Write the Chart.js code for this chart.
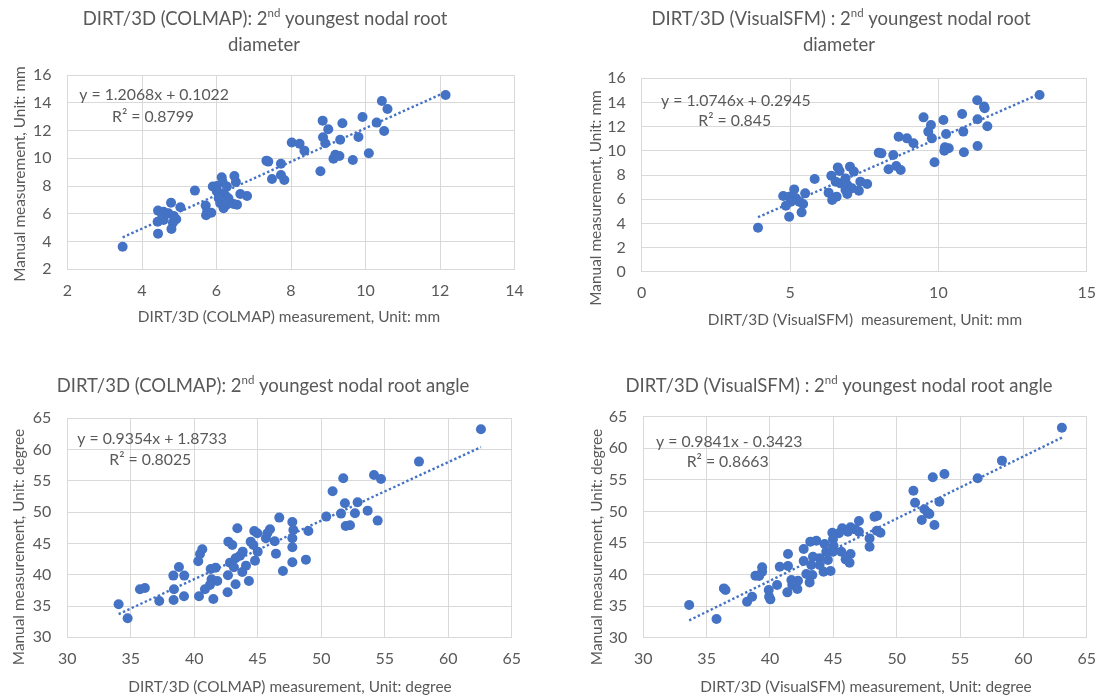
<!DOCTYPE html>
<html>
<head>
<meta charset="utf-8">
<script src="https://cdn.jsdelivr.net/npm/chart.js@4.4.0/dist/chart.umd.min.js"></script>
<style>
  html, body { margin: 0; padding: 0; background: #fff; }
  body { width: 1097px; height: 697px; position: relative; overflow: hidden; }
  canvas { position: absolute; }
</style>
</head>
<body>
<canvas id="c1" width="548" height="345" style="left:0;top:0"></canvas>
<canvas id="c2" width="560" height="345" style="left:548px;top:0"></canvas>
<canvas id="c3" width="548" height="352" style="left:0;top:345px"></canvas>
<canvas id="c4" width="560" height="352" style="left:548px;top:345px"></canvas>
<script>
// DIRT/3D (COLMAP) vs manual, diameter (mm)
const colmapDiaX = [3.48, 12.15, 10.44, 10.59, 8.85, 9.38, 9.92, 10.30, 9.00, 10.50, 8.86, 9.32, 9.81, 8.92, 8.02, 8.23, 8.36, 10.09, 9.19, 9.30, 9.14, 9.66, 8.79, 7.34, 7.39, 7.73, 7.73, 7.82, 7.49, 6.14, 6.48, 6.52, 6.16, 5.90, 6.01, 5.42, 6.28, 6.01, 6.10, 6.23, 6.64, 6.82, 6.06, 6.32, 6.10, 6.26, 6.46, 6.55, 6.19, 4.78, 5.03, 4.43, 4.58, 4.71, 4.54, 4.85, 4.92, 4.42, 4.58, 4.83, 4.79, 4.43, 5.71, 5.75, 5.72, 5.86];
const colmapDiaY = [3.63, 14.56, 14.13, 13.55, 12.71, 12.52, 12.97, 12.57, 12.09, 11.97, 11.51, 11.34, 11.53, 11.08, 11.13, 11.05, 10.55, 10.36, 10.26, 10.17, 9.97, 9.88, 9.06, 9.83, 9.76, 9.61, 8.80, 8.44, 8.51, 8.63, 8.72, 8.29, 8.32, 7.96, 8.00, 7.67, 7.96, 7.60, 7.48, 7.36, 7.43, 7.28, 7.12, 7.12, 6.76, 6.64, 6.71, 6.66, 6.40, 6.80, 6.47, 6.23, 6.15, 6.03, 5.91, 5.84, 5.60, 5.43, 5.55, 5.36, 4.91, 4.57, 6.59, 6.15, 5.89, 6.08];

// DIRT/3D (VisualSFM) vs manual, diameter (mm)
const sfmDiaX = [3.92, 13.41, 11.31, 11.54, 11.56, 9.50, 10.80, 10.17, 11.32, 9.75, 11.65, 9.66, 10.26, 10.84, 8.66, 8.94, 9.78, 9.16, 10.22, 10.35, 10.20, 10.86, 11.32, 9.87, 7.99, 8.08, 8.48, 8.32, 8.58, 8.73, 5.83, 6.39, 6.61, 6.67, 7.02, 7.15, 6.87, 6.54, 6.70, 6.93, 7.37, 7.60, 6.87, 7.09, 7.32, 6.93, 6.30, 6.57, 6.42, 5.14, 5.51, 4.77, 4.97, 5.20, 5.31, 5.03, 4.86, 5.44, 5.39, 4.97];
const sfmDiaY = [3.64, 14.62, 14.18, 13.66, 13.52, 12.77, 13.05, 12.55, 12.61, 12.14, 12.03, 11.59, 11.39, 11.59, 11.17, 11.03, 11.03, 10.62, 10.29, 10.21, 10.01, 9.88, 10.40, 9.05, 9.85, 9.79, 9.66, 8.47, 8.74, 8.41, 7.67, 7.94, 8.63, 8.33, 8.69, 8.28, 7.72, 7.45, 7.31, 7.17, 7.45, 7.26, 6.76, 6.90, 6.70, 6.43, 6.54, 6.21, 5.93, 6.81, 6.48, 6.26, 6.21, 6.07, 5.79, 5.79, 5.46, 5.60, 4.91, 4.55];

// DIRT/3D (COLMAP) vs manual, angle (degree)
const colmapAngX = [62.57, 57.69, 54.15, 54.70, 51.73, 50.89, 51.86, 52.86, 53.65, 52.65, 51.55, 50.39, 54.44, 51.92, 52.26, 46.69, 47.72, 48.98, 47.80, 47.72, 47.72, 48.79, 47.72, 46.98, 46.43, 46.33, 45.96, 45.75, 45.64, 44.72, 44.96, 43.39, 44.44, 44.65, 44.99, 42.68, 42.99, 43.81, 43.60, 43.25, 44.78, 44.07, 42.81, 43.12, 43.78, 42.65, 43.25, 44.30, 42.62, 40.63, 40.45, 40.31, 41.29, 41.68, 41.36, 41.81, 41.23, 40.84, 40.37, 41.50, 38.79, 38.35, 39.21, 38.40, 39.19, 38.37, 37.24, 35.72, 36.11, 34.04, 34.75];
const colmapAngY = [63.24, 58.08, 55.95, 55.31, 55.41, 53.33, 51.42, 51.58, 50.24, 49.82, 49.77, 49.29, 48.65, 47.79, 47.90, 49.13, 48.43, 47.00, 47.16, 45.82, 44.38, 42.41, 41.99, 40.60, 43.37, 45.34, 47.26, 46.62, 45.82, 47.00, 46.62, 47.42, 45.29, 44.76, 43.69, 45.29, 44.76, 43.69, 43.05, 42.63, 42.25, 41.45, 41.93, 41.19, 40.44, 39.91, 38.47, 39.00, 37.19, 44.07, 43.32, 42.15, 40.92, 41.13, 39.27, 39.00, 38.36, 37.67, 36.55, 36.13, 41.24, 39.86, 39.86, 37.67, 36.55, 35.97, 35.81, 37.67, 37.88, 35.27, 33.04];

// DIRT/3D (VisualSFM) vs manual, angle (degree)
const sfmAngX = [63.04, 58.31, 56.39, 52.85, 53.77, 51.32, 51.45, 53.37, 52.19, 52.45, 52.58, 51.98, 52.98, 48.25, 48.46, 47.02, 48.43, 48.72, 46.36, 46.73, 47.02, 45.70, 46.15, 45.44, 44.92, 44.97, 47.86, 47.86, 44.31, 45.02, 43.66, 43.18, 42.66, 41.42, 44.44, 44.97, 45.63, 46.36, 45.97, 46.28, 44.57, 43.92, 43.39, 42.66, 43.26, 43.92, 44.23, 44.78, 42.87, 43.34, 40.77, 41.42, 39.38, 39.38, 38.85, 39.14, 41.69, 42.21, 43.13, 41.76, 42.16, 41.37, 40.56, 39.90, 39.93, 40.03, 38.19, 38.59, 36.36, 36.49, 33.62, 35.78];
const sfmAngY = [63.26, 58.04, 55.24, 55.40, 55.92, 53.28, 51.38, 51.54, 50.33, 49.80, 49.59, 48.64, 47.85, 49.17, 49.32, 48.48, 46.95, 46.63, 47.48, 47.16, 46.79, 47.32, 46.79, 46.53, 46.63, 45.58, 45.73, 44.41, 44.84, 44.52, 45.36, 45.21, 44.04, 43.25, 43.62, 43.62, 43.62, 43.25, 42.41, 41.88, 42.30, 42.57, 42.83, 42.14, 41.51, 41.51, 40.45, 40.56, 40.08, 39.93, 41.25, 41.35, 41.14, 40.45, 39.82, 39.77, 39.13, 39.03, 38.76, 38.34, 37.71, 37.18, 38.34, 37.55, 36.49, 36.07, 35.70, 36.49, 37.81, 37.55, 35.17, 32.96];

// trendline equations as printed on the charts
const slopes = [1.2068, 1.0746, 0.9354, 0.9841];
const intercepts = [0.1022, 0.2945, 1.8733, -0.3423];
const eqLabels = ['y = 1.2068x + 0.1022', 'y = 1.0746x + 0.2945', 'y = 0.9354x + 1.8733', 'y = 0.9841x - 0.3423'];
const r2Labels = ['R\u00b2 = 0.8799', 'R\u00b2 = 0.845', 'R\u00b2 = 0.8025', 'R\u00b2 = 0.8663'];

// axis ranges [min, max, step]
const xRanges = [[2, 14, 2], [0, 15, 5], [30, 65, 5], [30, 65, 5]];
const yRanges = [[2, 16, 2], [0, 16, 2], [30, 65, 5], [30, 65, 5]];

const GREY = '#595959';
const GRID = '#d9d9d9';
const BLUE = '#4472C4';
const FONT = 'Lato, "Open Sans", sans-serif';

Chart.defaults.font.family = FONT;
Chart.defaults.color = GREY;

// draws titles, axis titles and the trendline equation
const notesPlugin = {
  id: 'notes',
  afterDraw(chart, args, opts) {
    const ctx = chart.ctx;
    ctx.save();
    ctx.fillStyle = GREY;
    ctx.textBaseline = 'middle';
    for (const n of opts.items) {
      const parts = typeof n.text === 'string' ? [{ t: n.text }] : n.text;
      const fontOf = p => (p.sup ? n.size * 0.62 : n.size) + 'px ' + FONT;
      let w = 0;
      parts.forEach(p => { ctx.font = fontOf(p); w += ctx.measureText(p.t).width; });
      ctx.save();
      ctx.translate(n.x - opts.offX, n.y - opts.offY);
      if (n.rotate) ctx.rotate(-Math.PI / 2);
      let x = n.align === 'left' ? 0 : -w / 2;
      ctx.textAlign = 'left';
      parts.forEach(p => {
        ctx.font = fontOf(p);
        ctx.fillText(p.t, x, p.sup ? -n.size * 0.32 : 0);
        x += ctx.measureText(p.t).width;
      });
      ctx.restore();
    }
    ctx.restore();
  }
};

function makeChart(id, idx, xs, ys, box, items) {
  const points = xs.map((x, i) => ({ x: x, y: ys[i] }));
  const x0 = Math.min(...xs), x1 = Math.max(...xs);
  const trend = [x0, x1].map(x => ({ x: x, y: slopes[idx] * x + intercepts[idx] }));
  const [xmin, xmax, xstep] = xRanges[idx];
  const [ymin, ymax, ystep] = yRanges[idx];
  const canvas = document.getElementById(id);

  new Chart(canvas, {
    type: 'scatter',
    data: {
      datasets: [{
        data: points,
        backgroundColor: BLUE,
        borderColor: BLUE,
        pointRadius: 5,
        pointBorderWidth: 0,
        order: 1
      }, {
        type: 'line',
        data: trend,
        borderColor: BLUE,
        borderWidth: 2.4,
        borderDash: [2.4, 2.4],
        pointRadius: 0,
        fill: false,
        order: 0
      }]
    },
    options: {
      responsive: false,
      animation: false,
      layout: { padding: { left: 0, top: box.top, right: box.right, bottom: 0 } },
      plugins: {
        legend: { display: false },
        tooltip: { enabled: false },
        notes: { offX: box.offX, offY: box.offY, items: items }
      },
      scales: {
        x: {
          type: 'linear',
          min: xmin, max: xmax,
          ticks: { stepSize: xstep, padding: 12, font: { size: 16 }, color: GREY },
          grid: { color: GRID, drawTicks: false },
          border: { color: GRID },
          afterFit: s => { s.height = box.xh; }
        },
        y: {
          min: ymin, max: ymax,
          ticks: { stepSize: ystep, padding: 16, font: { size: 16 }, color: GREY },
          grid: { color: GRID, drawTicks: false },
          border: { color: GRID },
          afterFit: s => { s.width = box.yw; }
        }
      }
    },
    plugins: [notesPlugin]
  });
}

const TS = 18.5, AS = 15.4, ES = 15.8;

makeChart('c1', 0, colmapDiaX, colmapDiaY,
  { offX: 0, offY: 0, top: 75, right: 33.5, yw: 67.5, xh: 75.7 },
  [
    { text: [{ t: 'DIRT/3D (COLMAP): 2' }, { t: 'nd', sup: true }, { t: ' youngest nodal root' }], x: 265, y: 19, size: TS },
    { text: 'diameter', x: 264, y: 45, size: TS },
    { text: 'Manual measurement, Unit: mm', x: 20, y: 174, size: AS, rotate: true },
    { text: 'DIRT/3D (COLMAP) measurement, Unit: mm', x: 289, y: 317, size: AS },
    { text: eqLabels[0], x: 79.3, y: 95, size: ES, align: 'left' },
    { text: r2Labels[0], x: 112, y: 116.7, size: ES, align: 'left' }
  ]);

makeChart('c2', 1, sfmDiaX, sfmDiaY,
  { offX: 548, offY: 0, top: 78.3, right: 20, yw: 93.7, xh: 73.3 },
  [
    { text: [{ t: 'DIRT/3D (VisualSFM) : 2' }, { t: 'nd', sup: true }, { t: ' youngest nodal root' }], x: 841, y: 19, size: TS },
    { text: 'diameter', x: 839, y: 45, size: TS },
    { text: 'Manual measurement, Unit: mm', x: 596, y: 198, size: AS, rotate: true },
    { text: 'DIRT/3D (VisualSFM)  measurement, Unit: mm', x: 865, y: 320, size: AS },
    { text: eqLabels[1], x: 661, y: 100.7, size: ES, align: 'left' },
    { text: r2Labels[1], x: 698.3, y: 121, size: ES, align: 'left' }
  ]);

makeChart('c3', 2, colmapAngX, colmapAngY,
  { offX: 0, offY: 345, top: 73.3, right: 36.2, yw: 67.3, xh: 59.7 },
  [
    { text: [{ t: 'DIRT/3D (COLMAP): 2' }, { t: 'nd', sup: true }, { t: ' youngest nodal root angle' }], x: 263, y: 386, size: TS },
    { text: 'Manual measurement, Unit: degree', x: 19, y: 547, size: AS, rotate: true },
    { text: 'DIRT/3D (COLMAP) measurement, Unit: degree', x: 290, y: 687, size: AS },
    { text: eqLabels[2], x: 77.3, y: 439, size: ES, align: 'left' },
    { text: r2Labels[2], x: 109.3, y: 460, size: ES, align: 'left' }
  ]);

makeChart('c4', 3, sfmAngX, sfmAngY,
  { offX: 548, offY: 345, top: 71.7, right: 20.3, yw: 95.3, xh: 59.3 },
  [
    { text: [{ t: 'DIRT/3D (VisualSFM) : 2' }, { t: 'nd', sup: true }, { t: ' youngest nodal root angle' }], x: 839, y: 386, size: TS },
    { text: 'Manual measurement, Unit: degree', x: 597, y: 547, size: AS, rotate: true },
    { text: 'DIRT/3D (VisualSFM) measurement, Unit: degree', x: 866, y: 687, size: AS },
    { text: eqLabels[3], x: 656, y: 442.3, size: ES, align: 'left' },
    { text: r2Labels[3], x: 686.7, y: 462.3, size: ES, align: 'left' }
  ]);
</script>
</body>
</html>
